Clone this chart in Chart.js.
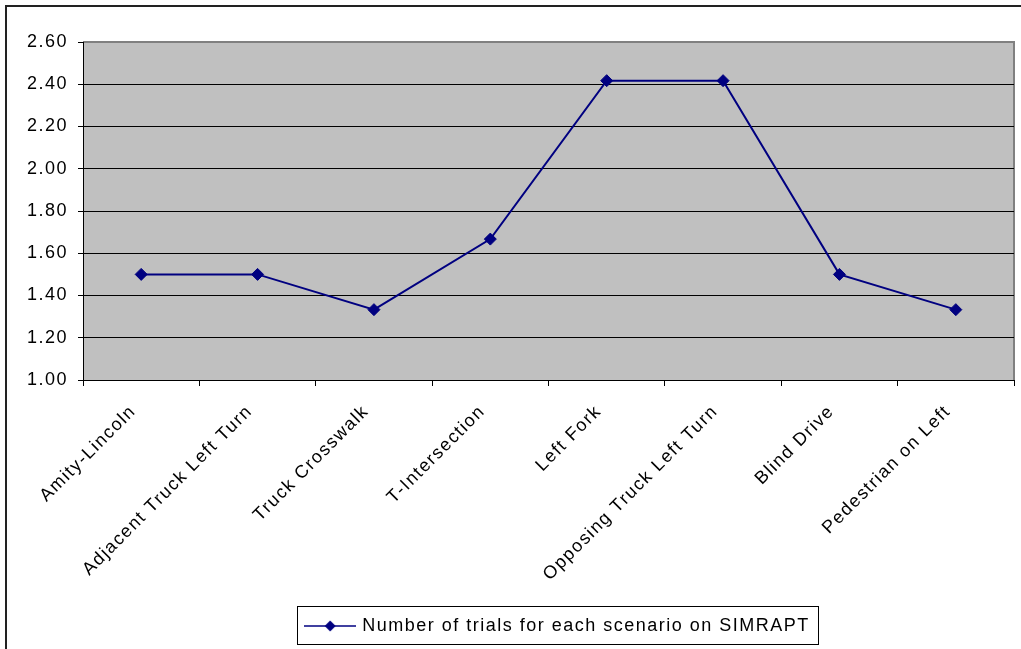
<!DOCTYPE html>
<html>
<head>
<meta charset="utf-8">
<script src="https://cdn.jsdelivr.net/npm/chart.js@4/dist/chart.umd.min.js"></script>
<style>
  html, body { margin: 0; padding: 0; background: #ffffff; }
  canvas { display: block; }
</style>
</head>
<body>
<canvas id="chart" width="1021" height="649"></canvas>
<script>
// Scenario names along the x axis
const scenarios = [
  'Amity-Lincoln',
  'Adjacent Truck Left Turn',
  'Truck Crosswalk',
  'T-Intersection',
  'Left Fork',
  'Opposing Truck Left Turn',
  'Blind Drive',
  'Pedestrian on Left'
];

// Average number of trials per scenario
const trials = [1.5, 1.5, 1.333, 1.667, 2.417, 2.417, 1.5, 1.333];

// Value axis range and spacing
const yMin = 1.0;
const yMax = 2.6;
const yStep = 0.2;

const seriesLabel = 'Number of trials for each scenario on SIMRAPT';
const navy = '#000080';
const fontFamily = '"Liberation Sans", Arial, sans-serif';
const letterSpacing = '1.5px';

// Legend sample: a short line with a diamond marker in the middle
function makeLegendSample() {
  const c = document.createElement('canvas');
  c.width = 52;
  c.height = 14;
  const g = c.getContext('2d');
  g.strokeStyle = navy;
  g.lineWidth = 1.5;
  g.beginPath();
  g.moveTo(0, 7);
  g.lineTo(52, 7);
  g.stroke();
  g.fillStyle = navy;
  g.beginPath();
  g.moveTo(26, 1.5);
  g.lineTo(31.5, 7);
  g.lineTo(26, 12.5);
  g.lineTo(20.5, 7);
  g.closePath();
  g.fill();
  return c;
}

// Grey plot background, grey top/right frame, outer chart border, legend frame
const framePlugin = {
  id: 'frame',
  beforeUpdate(chart) { chart.ctx.letterSpacing = letterSpacing; },
  afterUpdate(chart) {
    // nudge the legend row a little to the right, under the plot centre
    const lg = chart.legend;
    if (lg) {
      lg.left += 10;
      lg.right += 10;
      lg.adjustHitBoxes();
    }
  },
  beforeDraw(chart) {
    const { ctx, chartArea: a } = chart;
    ctx.letterSpacing = letterSpacing;
    ctx.save();
    ctx.fillStyle = '#ffffff';
    ctx.fillRect(0, 0, chart.width, chart.height);
    ctx.fillStyle = '#c0c0c0';
    ctx.fillRect(a.left, a.top, a.right - a.left, a.bottom - a.top);
    ctx.strokeStyle = '#808080';
    ctx.lineWidth = 2;
    ctx.beginPath();
    ctx.moveTo(a.left, a.top);
    ctx.lineTo(a.right, a.top);
    ctx.lineTo(a.right, a.bottom);
    ctx.stroke();
    ctx.restore();
  },
  afterDraw(chart) {
    const { ctx } = chart;
    ctx.save();
    ctx.strokeStyle = '#222222';
    ctx.lineWidth = 2;
    ctx.strokeRect(6, 6, chart.width + 20, chart.height + 20);
    const lg = chart.legend;
    if (lg && lg.legendHitBoxes && lg.legendHitBoxes.length) {
      const hb = lg.legendHitBoxes[0];
      ctx.strokeStyle = '#000000';
      ctx.lineWidth = 1;
      const x0 = Math.round(hb.left - 10) + 0.5;
      const x1 = Math.round(hb.left + hb.width + 8) + 0.5;
      ctx.strokeRect(x0, lg.top + 0.5, x1 - x0, lg.bottom - lg.top - 1);
    }
    ctx.restore();
  }
};

const ctx = document.getElementById('chart').getContext('2d');
new Chart(ctx, {
  type: 'line',
  data: {
    labels: scenarios,
    datasets: [{
      label: seriesLabel,
      data: trials,
      borderColor: navy,
      backgroundColor: navy,
      borderWidth: 2,
      tension: 0,
      pointStyle: 'rectRot',
      pointRadius: 6,
      pointHoverRadius: 6,
      pointBackgroundColor: navy,
      pointBorderColor: navy,
      pointBorderWidth: 1,
      clip: false
    }]
  },
  options: {
    responsive: false,
    animation: false,
    events: [],
    layout: { padding: { left: 0, top: 42, right: 6, bottom: 4 } },
    plugins: {
      tooltip: { enabled: false },
      title: { display: false },
      legend: {
        position: 'bottom',
        fullSize: false,
        labels: {
          usePointStyle: true,
          pointStyle: makeLegendSample(),
          pointStyleWidth: 46,
          padding: 11,
          color: '#000000',
          font: { family: fontFamily, size: 18 }
        }
      }
    },
    scales: {
      x: {
        type: 'category',
        offset: true,
        afterFit(scale) { scale.height = 226; },
        grid: {
          offset: true,
          drawOnChartArea: false,
          color: '#000000',
          tickLength: 6,
          lineWidth: 1
        },
        border: { display: true, color: '#000000', width: 1 },
        ticks: {
          autoSkip: false,
          minRotation: 45,
          maxRotation: 45,
          padding: 15,
          labelOffset: -8,
          color: '#000000',
          font: { family: fontFamily, size: 18 }
        }
      },
      y: {
        min: yMin,
        max: yMax,
        afterFit(scale) { scale.width = 83; },
        grid: {
          color: (c) => (c.tick && Math.abs(c.tick.value - yMax) < 1e-9 ? '#808080' : '#000000'),
          tickColor: '#000000',
          tickLength: 5,
          lineWidth: 1
        },
        border: { display: true, color: '#000000', width: 1 },
        ticks: {
          stepSize: yStep,
          padding: 10,
          color: '#000000',
          font: { family: fontFamily, size: 18 },
          callback: (v) => Number(v).toFixed(2)
        }
      }
    }
  },
  plugins: [framePlugin]
});
</script>
</body>
</html>
